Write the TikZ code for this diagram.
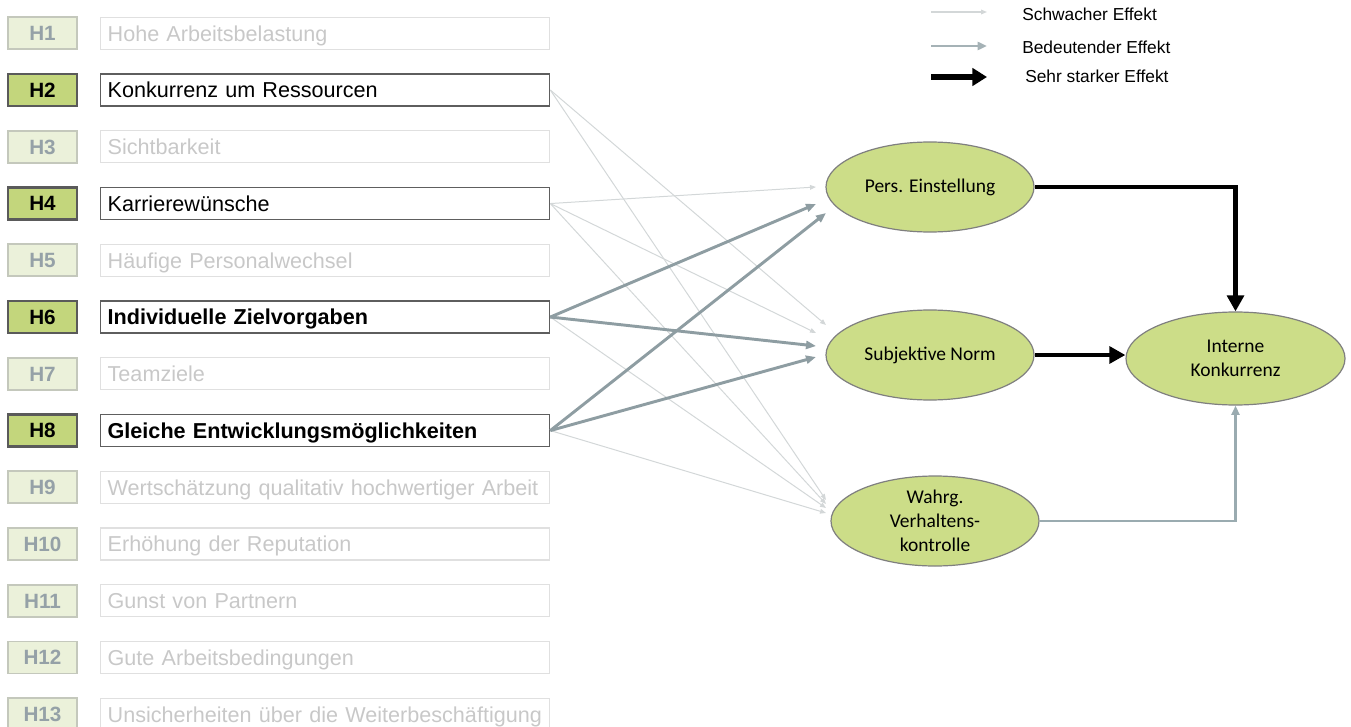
\documentclass[tikz,border=0pt]{standalone}
\usepackage{fontspec}
\setmainfont{Liberation Sans}
\newfontfamily\calibri{Carlito}
\usetikzlibrary{arrows.meta,shapes.geometric,calc}
\definecolor{hOnFill}{HTML}{C3D67C}
\definecolor{hOnBorder}{HTML}{5A5A5A}
\definecolor{hOffFill}{HTML}{EBF1DA}
\definecolor{hOffBorder}{HTML}{C4C8BC}
\definecolor{hOffText}{HTML}{95A1A7}
\definecolor{tOnBorder}{HTML}{5E5E5E}
\definecolor{tOffBorder}{HTML}{E0E0E0}
\definecolor{tOffText}{HTML}{C8C8C8}
\definecolor{ellFill}{HTML}{CCDD88}
\definecolor{ellBorder}{HTML}{7F7F7F}
\definecolor{weakC}{HTML}{D3D7D8}
\definecolor{midC}{HTML}{8E9DA2}
\definecolor{legMidC}{HTML}{A5B2B6}
\definecolor{grayLink}{HTML}{9AABB0}
\tikzset{
 hbox/.style={draw, rectangle, minimum width=51.75pt, minimum height=24pt, inner sep=0pt, text height=11pt, text depth=0pt, font=\bfseries\fontsize{15.5}{18}\selectfont},
 hon/.style={hbox, fill=hOnFill, draw=hOnBorder, line width=1.6pt, text=black},
 hoff/.style={hbox, fill=hOffFill, draw=hOffBorder, line width=1.3pt, text=hOffText},
 tbox/.style={draw, rectangle, anchor=west, text width=326.25pt, align=left, minimum height=24pt, inner xsep=5.25pt, inner ysep=0pt, text height=15.4pt, text depth=3.8pt, font=\fontsize{16.2}{19}\selectfont},
 ton/.style={tbox, draw=tOnBorder, line width=1pt, text=black},
 tonb/.style={ton, font=\bfseries\fontsize{16.2}{19}\selectfont},
 toff/.style={tbox, draw=tOffBorder, line width=1pt, text=tOffText},
 ell/.style={ellipse, draw=ellBorder, fill=ellFill, line width=0.9pt, inner sep=0pt, align=center, minimum width=156pt, minimum height=67.5pt, font=\calibri\fontsize{14.6}{18}\selectfont},
 weak/.style={draw=weakC, line width=0.75pt, -{Triangle[length=4.5pt,width=3.5pt]}},
 mid/.style={draw=midC, line width=2.2pt, -{Triangle[length=7.5pt,width=6pt]}},
 strong/.style={draw=black, line width=3.6pt, -{Triangle[length=12pt,width=12.5pt]}},
 legtext/.style={anchor=west, inner sep=0pt, font=\fontsize{13}{15}\selectfont},
}
\begin{document}
\begin{tikzpicture}[x=0.75pt,y=-0.75pt]
\path[use as bounding box] (0,0) rectangle (1351,727);
% left column
\node[hoff] (h1)  at (42.5,33.3)  {H1};
\node[toff] (t1)  at (100,33.3)   {Hohe Arbeitsbelastung};
\node[hon]  (h2)  at (42.5,90.05) {H2};
\node[ton]  (t2)  at (100,90.05)  {Konkurrenz um Ressourcen};
\node[hoff] (h3)  at (42.5,146.8) {H3};
\node[toff] (t3)  at (100,146.8)  {Sichtbarkeit};
\node[hon]  (h4)  at (42.5,203.55){H4};
\node[ton]  (t4)  at (100,203.55) {Karrierewünsche};
\node[hoff] (h5)  at (42.5,260.3) {H5};
\node[toff] (t5)  at (100,260.3)  {Häufige Personalwechsel};
\node[hon]  (h6)  at (42.5,317.05){H6};
\node[tonb] (t6)  at (100,317.05) {Individuelle Zielvorgaben};
\node[hoff] (h7)  at (42.5,373.8) {H7};
\node[toff] (t7)  at (100,373.8)  {Teamziele};
\node[hon]  (h8)  at (42.5,430.55){H8};
\node[tonb] (t8)  at (100,430.55) {Gleiche Entwicklungsmöglichkeiten};
\node[hoff] (h9)  at (42.5,487.3) {H9};
\node[toff] (t9)  at (100,487.3)  {Wertschätzung qualitativ hochwertiger Arbeit};
\node[hoff] (h10) at (42.5,544.05){H10};
\node[toff] (t10) at (100,544.05) {Erhöhung der Reputation};
\node[hoff] (h11) at (42.5,600.8) {H11};
\node[toff] (t11) at (100,600.8)  {Gunst von Partnern};
\node[hoff] (h12) at (42.5,657.55){H12};
\node[toff] (t12) at (100,657.55) {Gute Arbeitsbedingungen};
\node[hoff] (h13) at (42.5,714.3) {H13};
\node[toff] (t13) at (100,714.3)  {Unsicherheiten über die Weiterbeschäftigung};
% ellipses
\node[ell] (pers) at (930,187) {Pers. Einstellung};
\node[ell] (sub)  at (930,355) {Subjektive Norm};
\node[ell] (wahr) at (935,521) {Wahrg.\\Verhaltens-\\kontrolle};
\node[ell, minimum width=164.25pt, minimum height=69.75pt] (intern) at (1235.5,358.5) {Interne\\Konkurrenz};
% arrow end points
\coordinate (pA) at (816,187);
\coordinate (pB) at (816,204);
\coordinate (pC) at (826,213);
\coordinate (sA) at (826,325);
\coordinate (sB) at (816,333);
\coordinate (sC) at (816,346);
\coordinate (sD) at (816,357);
\coordinate (wA) at (826,500);
\coordinate (wB) at (826,504);
\coordinate (wC) at (826,508);
\coordinate (wD) at (826,513);
% weak effects
\draw[weak] (t2.east) -- (sA);
\draw[weak] (t2.east) -- (wA);
\draw[weak] (t4.east) -- (pA);
\draw[weak] (t4.east) -- (sB);
\draw[weak] (t4.east) -- (wB);
\draw[weak] (t6.east) -- (wC);
\draw[weak] (t8.east) -- (wD);
% significant effects
\draw[mid] (t6.east) -- (pB);
\draw[mid] (t6.east) -- (sC);
\draw[mid] (t8.east) -- (pC);
\draw[mid] (t8.east) -- (sD);
% right part
\draw[strong] (pers.east) -| (intern.north);
\draw[strong] (sub.east) -- (sub.east -| intern.west);
\draw[draw=grayLink, line width=2.2pt, -{Triangle[length=7pt,width=6pt]}] (wahr.east) -| (intern.south);
% legend
\coordinate (la1) at (931,12);
\coordinate (la2) at (987,12);
\coordinate (lb1) at (931,46);
\coordinate (lb2) at (987,46);
\coordinate (lc1) at (931,77);
\coordinate (lc2) at (987,77);
\draw[draw=weakC, line width=0.9pt, -{Triangle[length=4.5pt,width=3.5pt]}] (la1) -- (la2);
\draw[draw=legMidC, line width=2.2pt, -{Triangle[length=7pt,width=6pt]}] (lb1) -- (lb2);
\draw[draw=black, line width=4pt, -{Triangle[length=11pt,width=13pt]}] (lc1) -- (lc2);
\node[legtext] (lta) at (1022,14) {Schwacher Effekt};
\node[legtext] (ltb) at (1022,47) {Bedeutender Effekt};
\node[legtext] (ltc) at (1025,76) {Sehr starker Effekt};
\end{tikzpicture}
\end{document}
